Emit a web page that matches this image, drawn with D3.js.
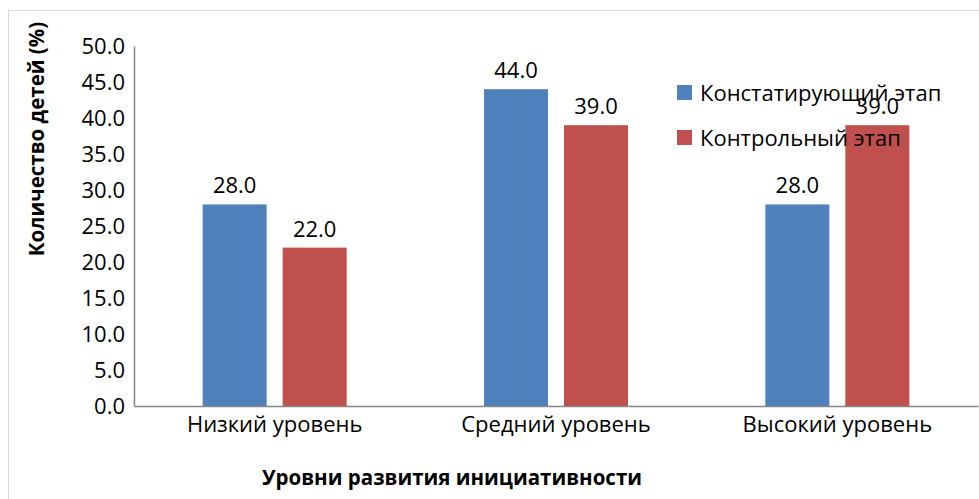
<!DOCTYPE html>
<html>
<head>
<meta charset="utf-8">
<script src="https://cdn.jsdelivr.net/npm/d3@7"></script>
<style>
  body { margin: 0; background: #fff; }
  svg text { font-family: "Open Sans", "Noto Sans", sans-serif; fill: #000; }
</style>
</head>
<body>
<svg id="chart" width="979" height="499"></svg>
<script>
const categories = ["Низкий уровень", "Средний уровень", "Высокий уровень"];
const seriesNames = ["Констатирующий этап", "Контрольный этап"];
const stageOne = [28.0, 44.0, 28.0];
const stageTwo = [22.0, 39.0, 39.0];
const yTicks = [0, 5, 10, 15, 20, 25, 30, 35, 40, 45, 50];
const colors = ["#4f81bd", "#c0504d"];

const svg = d3.select("svg#chart");
const margin = { left: 134, right: 1, top: 46, bottom: 93 };
const W = 979, H = 499;

// outer frame
svg.append("rect")
  .attr("x", 8.5).attr("y", 10.5)
  .attr("width", W - 8).attr("height", H)
  .attr("fill", "none").attr("stroke", "#d9d9d9").attr("stroke-width", 1);

const x0 = d3.scaleBand()
  .domain(categories)
  .range([margin.left, W - margin.right]);

const x1 = d3.scaleBand()
  .domain(seriesNames)
  .range([x0.bandwidth() / 2 - 72, x0.bandwidth() / 2 + 72])
  .paddingInner(0.2);

const y = d3.scaleLinear()
  .domain([0, 50])
  .range([H - margin.bottom, margin.top]);

const rows = categories.map((c, i) => ({ cat: c, vals: [stageOne[i], stageTwo[i]] }));

const groups = svg.selectAll("g.grp")
  .data(rows)
  .enter()
  .append("g")
  .attr("class", "grp")
  .attr("transform", (d) => "translate(" + x0(d.cat) + ",0)");

groups.selectAll("rect")
  .data((d) => d.vals.map((v, j) => ({ name: seriesNames[j], v: v, j: j })))
  .enter()
  .append("rect")
  .attr("x", (d) => x1(d.name))
  .attr("y", (d) => y(d.v))
  .attr("width", x1.bandwidth())
  .attr("height", (d) => y(0) - y(d.v))
  .attr("fill", (d) => colors[d.j]);

groups.selectAll("text.val")
  .data((d) => d.vals.map((v, j) => ({ name: seriesNames[j], v: v })))
  .enter()
  .append("text")
  .attr("class", "val")
  .attr("x", (d) => x1(d.name) + x1.bandwidth() / 2)
  .attr("y", (d) => y(d.v) - 11)
  .attr("text-anchor", "middle")
  .attr("font-size", 22)
  .text((d) => d.v.toFixed(1));

// y axis
const yAxis = svg.append("g")
  .attr("transform", "translate(" + margin.left + ",0)")
  .call(d3.axisLeft(y).tickValues(yTicks).tickSize(0).tickPadding(9).tickFormat(d3.format(".1f")));
yAxis.select(".domain").attr("stroke", "#868686").attr("stroke-width", 1.5);
yAxis.selectAll("text").attr("font-size", 22).attr("dy", "0.35em");

// x axis
const xAxis = svg.append("g")
  .attr("transform", "translate(0," + y(0) + ")")
  .call(d3.axisBottom(x0).tickSize(0).tickPadding(10));
xAxis.select(".domain").attr("stroke", "#868686").attr("stroke-width", 1.5);
xAxis.selectAll("text").attr("font-size", 22);

// axis titles
svg.append("text")
  .attr("transform", "translate(44,139) rotate(-90)")
  .attr("text-anchor", "middle")
  .attr("font-size", 20.5)
  .attr("font-weight", "bold")
  .text("Количество детей (%)");

svg.append("text")
  .attr("x", 452).attr("y", 485)
  .attr("text-anchor", "middle")
  .attr("font-size", 20.5)
  .attr("font-weight", "bold")
  .text("Уровни развития инициативности");

// legend
const legend = svg.selectAll("g.leg")
  .data(seriesNames)
  .enter()
  .append("g")
  .attr("class", "leg")
  .attr("transform", (d, i) => "translate(677," + (85 + i * 45) + ")");
legend.append("rect")
  .attr("width", 15).attr("height", 15)
  .attr("fill", (d, i) => colors[i]);
legend.append("text")
  .attr("x", 23).attr("y", 8)
  .attr("dy", "0.35em")
  .attr("font-size", 22)
  .text((d) => d);
</script>
</body>
</html>
